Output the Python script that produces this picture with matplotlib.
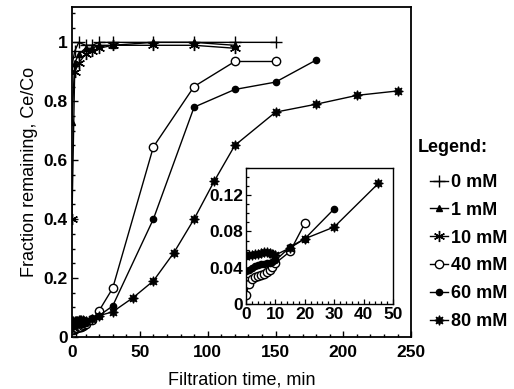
import matplotlib
matplotlib.use('Agg')
import matplotlib.pyplot as plt
from matplotlib.ticker import MultipleLocator

plt.rcParams['font.family'] = ['Liberation Sans', 'DejaVu Sans']

# --- data (time in min, fraction remaining Ce/Co) ---
t_0mM = [0, 2, 5, 10, 15, 20, 30, 60, 90, 120, 150]
c_0mM = [0.92, 0.97, 1.0, 0.99, 0.99, 1.0, 1.0, 1.0, 1.0, 1.0, 1.0]

t_1mM = [0, 2, 5, 10, 15, 20, 30, 60, 90, 120]
c_1mM = [0.73, 0.93, 0.96, 0.98, 0.98, 0.99, 0.99, 1.0, 1.0, 0.99]

t_10mM = [0, 2, 5, 10, 15, 20, 30, 60, 90, 120]
c_10mM = [0.40, 0.90, 0.93, 0.96, 0.97, 0.98, 0.99, 0.99, 0.99, 0.98]

t_40mM = [0, 1, 2, 3, 4, 5, 6, 7, 8, 9, 10, 15, 20, 30, 60, 90, 120, 150]
c_40mM = [0.010, 0.022, 0.028, 0.030, 0.031, 0.032, 0.033, 0.035, 0.038,
          0.041, 0.045, 0.058, 0.089, 0.165, 0.645, 0.85, 0.935, 0.935]

t_60mM = [0, 1, 2, 3, 4, 5, 6, 7, 8, 9, 10, 15, 20, 30, 60, 90, 120, 150, 180]
c_60mM = [0.036, 0.038, 0.040, 0.042, 0.043, 0.044, 0.044, 0.045, 0.045,
          0.046, 0.048, 0.063, 0.072, 0.105, 0.40, 0.78, 0.84, 0.865, 0.94]

t_80mM = [0, 1, 2, 3, 4, 5, 6, 7, 8, 9, 10, 15, 20, 30, 45, 60, 75, 90,
          105, 120, 150, 180, 210, 240]
c_80mM = [0.054, 0.054, 0.054, 0.055, 0.055, 0.056, 0.057, 0.057, 0.056,
          0.055, 0.054, 0.062, 0.072, 0.085, 0.133, 0.19, 0.285, 0.40,
          0.53, 0.65, 0.763, 0.79, 0.82, 0.835]

labels = ['0 mM', '1 mM', '10 mM', '40 mM', '60 mM', '80 mM']

styles = [
    dict(marker='+', ms=9, mew=1.0, mfc='k'),
    dict(marker='^', ms=5, mfc='k'),
    dict(marker=(6, 2, 0), ms=8, mew=1.0),
    dict(marker='o', ms=6, mfc='white', mew=1.0),
    dict(marker='o', ms=4.5, mfc='k'),
    dict(marker=(8, 1, 0), ms=7, mfc='k', mew=0.8),
]
series = [(t_0mM, c_0mM), (t_1mM, c_1mM), (t_10mM, c_10mM),
          (t_40mM, c_40mM), (t_60mM, c_60mM), (t_80mM, c_80mM)]

fig = plt.figure(figsize=(5.14, 3.89), dpi=100)
ax = fig.add_axes([0.140, 0.134, 0.660, 0.848])

handles = []
for (t, c), st, lab in zip(series, styles, labels):
    h, = ax.plot(t, c, color='k', lw=1.0, mec='k', label=lab, **st)
    handles.append(h)

ax.set_xlim(0, 250)
ax.set_ylim(0, 1.12)
ax.xaxis.set_minor_locator(MultipleLocator(10))
ax.yaxis.set_minor_locator(MultipleLocator(0.05))
ax.set_yticks([0, 0.2, 0.4, 0.6, 0.8, 1.0])
ax.set_yticklabels(['0', '0.2', '0.4', '0.6', '0.8', '1'])
ax.set_xticks([0, 50, 100, 150, 200, 250])
ax.tick_params(which='both', direction='in', width=1.0)
ax.tick_params(which='major', length=4, labelsize=12.5)
ax.tick_params(axis='x', which='major', pad=6)
ax.tick_params(axis='y', which='major', pad=3)
ax.tick_params(which='minor', length=2.5)
for lab in ax.get_xticklabels() + ax.get_yticklabels():
    lab.set_fontweight('bold')
for sp in ax.spines.values():
    sp.set_linewidth(1.3)

ax.set_xlabel('Filtration time, min', fontsize=13, labelpad=8)
ax.set_ylabel('Fraction remaining, Ce/Co', fontsize=13, labelpad=4)

# --- inset: early filtration times ---
ins = fig.add_axes([0.4786, 0.2185, 0.286, 0.3495])
for (t, c), st in zip(series[3:], styles[3:]):
    tt = [x for x, y in zip(t, c) if x <= 50 and y <= 0.15]
    cc = [y for x, y in zip(t, c) if x <= 50 and y <= 0.15]
    ins.plot(tt, cc, color='k', lw=1.0, mec='k', **st)
ins.set_xlim(0, 50)
ins.set_ylim(0, 0.15)
ins.set_xticks([0, 10, 20, 30, 40, 50])
ins.set_yticks([0, 0.04, 0.08, 0.12])
ins.set_yticklabels(['0', '0.04', '0.08', '0.12'])
ins.xaxis.set_minor_locator(MultipleLocator(2))
ins.yaxis.set_minor_locator(MultipleLocator(0.01))
ins.tick_params(which='both', direction='in', width=0.9)
ins.tick_params(which='major', length=3.5, labelsize=12.5, pad=2)
ins.tick_params(which='minor', length=2)
for lab in ins.get_xticklabels() + ins.get_yticklabels():
    lab.set_fontweight('bold')
for sp in ins.spines.values():
    sp.set_linewidth(1.0)

# --- legend outside on the right ---
fig.text(0.813, 0.620, 'Legend:', fontsize=13, fontweight='bold', va='center')
fig.legend(handles, labels, loc='upper left', bbox_to_anchor=(0.836, 0.553),
           frameon=False, borderpad=0, borderaxespad=0, handlelength=1.0,
           handletextpad=0.2, labelspacing=0.6, prop=dict(size=13, weight='bold'))

fig.savefig('out.png', dpi=100)
